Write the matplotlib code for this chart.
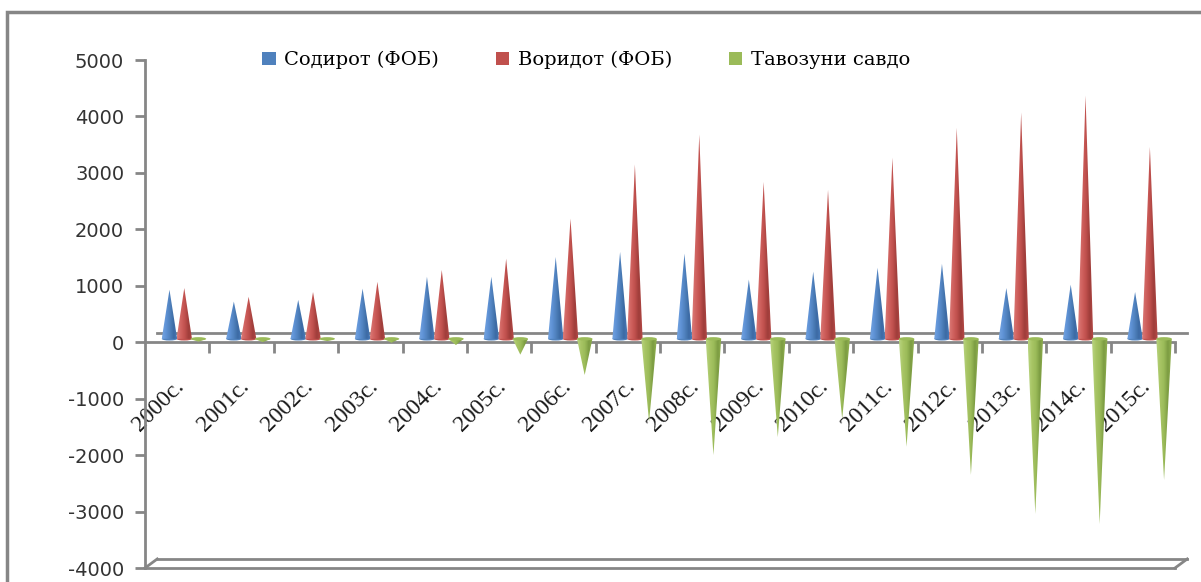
import numpy as np
import matplotlib
matplotlib.use('Agg')
import matplotlib.pyplot as plt
from matplotlib.patches import Polygon, Ellipse, Patch, Rectangle
from matplotlib.colors import LinearSegmentedColormap
from matplotlib.transforms import ScaledTranslation

plt.rcParams['axes.unicode_minus'] = False

# data (млн. долл.)
years = ['2000с.', '2001с.', '2002с.', '2003с.', '2004с.', '2005с.', '2006с.', '2007с.',
         '2008с.', '2009с.', '2010с.', '2011с.', '2012с.', '2013с.', '2014с.', '2015с.']
exports = [870, 660, 690, 890, 1100, 1100, 1450, 1540, 1510, 1050, 1190, 1260, 1330, 900, 960, 830]
imports = [900, 745, 830, 1010, 1220, 1420, 2130, 3090, 3620, 2780, 2640, 3210, 3740, 4010, 4310, 3400]
balance = [-50, -60, -40, -70, -110, -280, -640, -1470, -2060, -1740, -1420, -1910, -2410, -3100, -3280, -2500]
names = ['Содирот (ФОБ)', 'Воридот (ФОБ)', 'Тавозуни савдо']

GRAY = '#868686'
series_cols = [
    ('#4f81bd', ['#74a3e0', '#5f93d6', '#4f81bd', '#3c6aa3', '#4a7cbc']),
    ('#c0504d', ['#dc7a77', '#d0625f', '#c0504d', '#9e3d3a', '#b94a47']),
    ('#9bbb59', ['#b8d47f', '#a8c565', '#9bbb59', '#7c9c42', '#93b452']),
]
offsets = [-0.12, 0.11, 0.33]
width = 0.24
base = 60

fig = plt.figure(figsize=(12.01, 5.82), dpi=100)
ax = fig.add_axes([145 / 1201, 1 - 568 / 582, (1175 - 145) / 1201, (568 - 60) / 582])
ax.set_xlim(-0.5, 15.5)
ax.set_ylim(-4000, 5000)

grad = np.linspace(0, 1, 64).reshape(1, -1)


def draw_cone(x, val, cmap, col):
    left, right = x - width / 2, x + width / 2
    tip = base + val
    tri = Polygon([(left, base), (right, base), (x, tip)], closed=True,
                  facecolor='none', edgecolor='none')
    ax.add_patch(tri)
    lo, hi = min(base, tip), max(base, tip)
    im = ax.imshow(grad, cmap=cmap, extent=[left, right, lo, hi], aspect='auto',
                   interpolation='bilinear', zorder=3)
    im.set_clip_path(tri)
    ell = Ellipse((x, base), width, 60, facecolor=col, edgecolor='none',
                  zorder=3.1 if val < 0 else 2.9)
    ax.add_patch(ell)


for vals, off, (col, stops) in zip([exports, imports, balance], offsets, series_cols):
    cmap = LinearSegmentedColormap.from_list('c', stops)
    for i, v in enumerate(vals):
        draw_cone(i + off, v, cmap, col)

ax.set_xlim(-0.5, 15.5)
ax.set_ylim(-4000, 5000)

# axes styling
for s in ['top', 'right']:
    ax.spines[s].set_visible(False)
ax.spines['bottom'].set_position(('data', 0))
for s in ['left', 'bottom']:
    ax.spines[s].set_color(GRAY)
    ax.spines[s].set_linewidth(2)

ax.set_yticks(np.arange(-4000, 5001, 1000))
ax.tick_params(axis='y', direction='out', length=7, width=2, color=GRAY, pad=8,
               labelsize=14, labelcolor='#333333')

ax.set_xticks(np.arange(len(years)))
ax.set_xticklabels(years, rotation=45, ha='right', va='baseline', rotation_mode='anchor',
                   fontsize=17, fontfamily='Liberation Serif', color='#1a1a1a')
ax.tick_params(axis='x', which='major', length=0, pad=0)
ax.set_xticks(np.arange(len(years)) + 0.5, minor=True)
ax.tick_params(axis='x', which='minor', direction='out', length=8, width=2, color=GRAY)
for lab in ax.get_xticklabels():
    lab.set_transform(lab.get_transform() + ScaledTranslation(0.08, -0.45, fig.dpi_scale_trans))

# 3d floor lines
dx, dy = 0.19, 160
ax.plot([-0.5 + dx, 15.5 + dx], [dy, dy], color=GRAY, lw=2, clip_on=False, zorder=2)
ax.plot([-0.5, 15.5], [-4000, -4000], color=GRAY, lw=2, clip_on=False, zorder=2)
ax.plot([-0.5 + dx, 15.5 + dx], [-4000 + dy, -4000 + dy], color=GRAY, lw=2, clip_on=False, zorder=2)
ax.plot([-0.5, -0.5 + dx], [-4000, -4000 + dy], color=GRAY, lw=2, clip_on=False, zorder=2)
ax.plot([15.5, 15.5 + dx], [-4000, -4000 + dy], color=GRAY, lw=2, clip_on=False, zorder=2)

# legend
handles = [Patch(facecolor=c[0], edgecolor='none') for c in series_cols]
fig.legend(handles, names, loc='center', bbox_to_anchor=(0.488, 1 - 60 / 582), ncol=3,
           frameon=False, handlelength=0.7, handleheight=0.7, handletextpad=0.45,
           columnspacing=2.9, prop={'family': 'DejaVu Serif', 'size': 14})

# chart border
fig.patches.append(Rectangle((7 / 1201, -0.1), 1.1, 1.1 - 12 / 582, transform=fig.transFigure,
                             fill=False, edgecolor=GRAY, lw=2.5))

fig.savefig('out.png', dpi=100)
